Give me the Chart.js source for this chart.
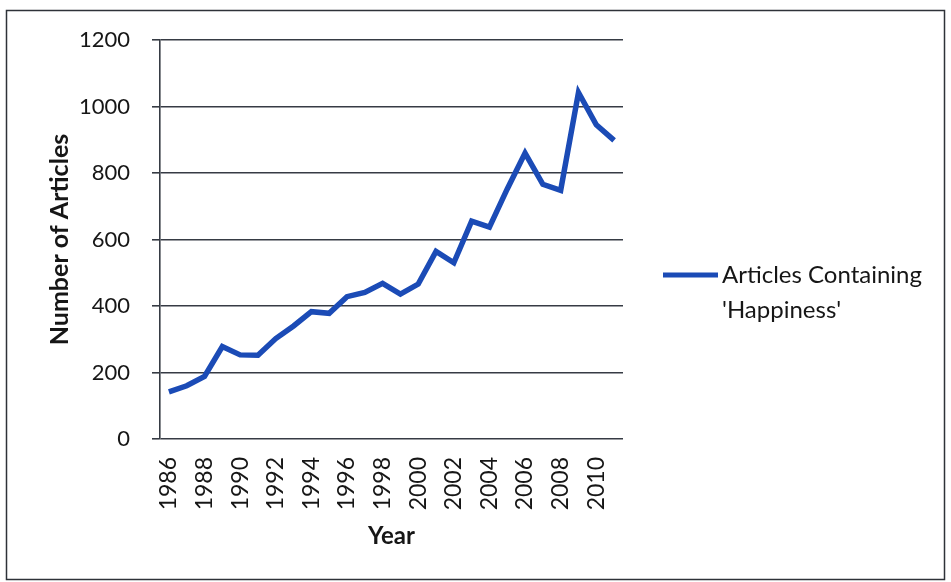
<!DOCTYPE html>
<html>
<head>
<meta charset="utf-8">
<script src="https://cdn.jsdelivr.net/npm/chart.js@4/dist/chart.umd.min.js"></script>
<style>
  html, body { margin: 0; padding: 0; background: #fff; }
  canvas { display: block; }
</style>
</head>
<body>
<canvas id="happinessChart" width="951" height="582"></canvas>
<script>
const years = [1986, 1987, 1988, 1989, 1990, 1991, 1992, 1993, 1994, 1995, 1996, 1997, 1998,
               1999, 2000, 2001, 2002, 2003, 2004, 2005, 2006, 2007, 2008, 2009, 2010, 2011];
const articleCounts = [142, 160, 188, 278, 253, 252, 302, 340, 383, 378, 428, 441, 468,
                       436, 466, 564, 530, 655, 637, 752, 860, 766, 748, 1042, 945, 898];
const legendLines = ['Articles Containing', "'Happiness'"];

const lineColor = '#1b4bb6';
const inkColor = '#161616';
const gridColor = '#363b44';
const fontFamily = 'Lato, "Open Sans", sans-serif';

// white page with the thin frame round the whole chart
const frame = {
    id: 'frame',
    beforeDraw(chart) {
        const ctx = chart.ctx;
        ctx.save();
        ctx.fillStyle = '#fff';
        ctx.fillRect(0, 0, chart.width, chart.height);
        ctx.strokeStyle = '#2e3238';
        ctx.lineWidth = 1.5;
        ctx.strokeRect(6.5, 10.5, 938, 569);
        ctx.restore();
    }
};

// legend on the right, label wrapped on two lines
const sideLegend = {
    id: 'sideLegend',
    afterDraw(chart) {
        const ds = chart.data.datasets[0];
        const ctx = chart.ctx;
        const y = 275;
        ctx.save();
        ctx.strokeStyle = ds.borderColor;
        ctx.lineWidth = 5;
        ctx.beginPath();
        ctx.moveTo(663, y);
        ctx.lineTo(718, y);
        ctx.stroke();
        ctx.fillStyle = inkColor;
        ctx.font = '24px ' + fontFamily;
        ctx.textBaseline = 'middle';
        legendLines.forEach((line, i) => ctx.fillText(line, 722, y + i * 35));
        ctx.restore();
    }
};

const ctx = document.getElementById('happinessChart').getContext('2d');
new Chart(ctx, {
    type: 'line',
    data: {
        labels: years,
        datasets: [{
            label: legendLines.join(' '),
            data: articleCounts,
            borderColor: lineColor,
            backgroundColor: lineColor,
            borderWidth: 5.5,
            pointRadius: 0,
            tension: 0,
            borderJoinStyle: 'miter'
        }]
    },
    options: {
        responsive: false,
        animation: false,
        layout: {
            padding: { top: 40, right: 328, bottom: 0, left: 0 }
        },
        plugins: {
            legend: { display: false },
            tooltip: { enabled: false }
        },
        scales: {
            x: {
                offset: true,
                grid: { display: false, drawTicks: false },
                border: { display: false },
                ticks: {
                    autoSkip: false,
                    minRotation: 90,
                    maxRotation: 90,
                    padding: 18,
                    color: inkColor,
                    font: { family: fontFamily, size: 23 },
                    callback: (value, index) => index % 2 === 0 ? String(years[index]) : ''
                },
                title: {
                    display: true,
                    text: 'Year',
                    color: inkColor,
                    font: { family: fontFamily, size: 24, weight: 'bold' },
                    padding: { top: 0, bottom: 31 }
                },
                afterFit(scale) { scale.height = 143; }
            },
            y: {
                min: 0,
                max: 1200,
                grid: {
                    color: gridColor,
                    lineWidth: 1.6,
                    tickLength: 8,
                    tickColor: gridColor
                },
                border: { display: true, color: gridColor, width: 1.6 },
                ticks: {
                    stepSize: 200,
                    padding: 22,
                    color: inkColor,
                    font: { family: fontFamily, size: 22 },
                    callback: value => String(value)
                },
                title: {
                    display: true,
                    text: 'Number of Articles',
                    color: inkColor,
                    font: { family: fontFamily, size: 25, weight: 'bold' },
                    padding: { top: 45, bottom: 0 }
                },
                afterFit(scale) { scale.width = 160; }
            }
        }
    },
    plugins: [frame, sideLegend]
});
</script>
</body>
</html>
